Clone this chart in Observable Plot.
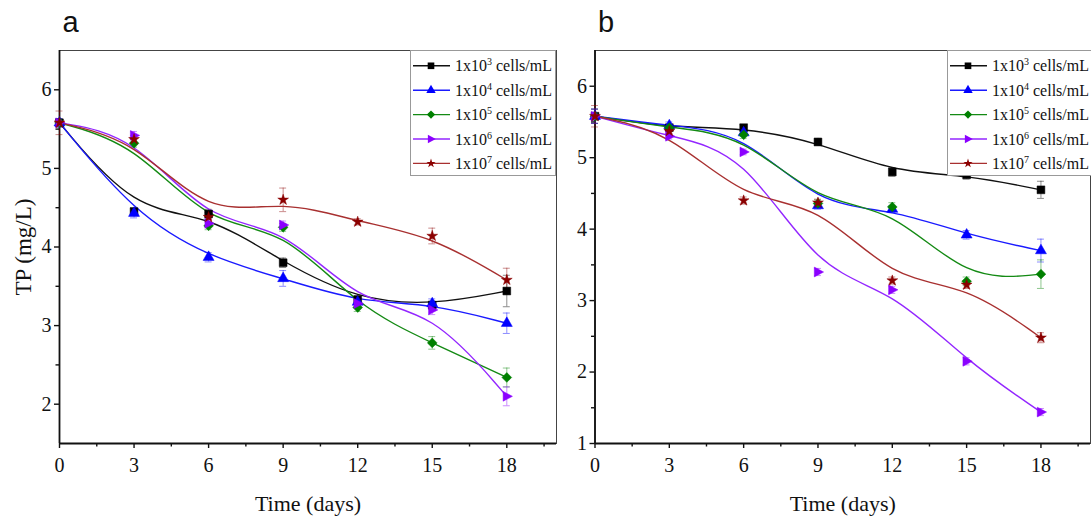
<!DOCTYPE html>
<html>
<head>
<meta charset="utf-8">
<script src="https://cdn.jsdelivr.net/npm/d3@7"></script>
<script src="https://cdn.jsdelivr.net/npm/@observablehq/plot@0.6"></script>
<style>
  body { margin: 0; background: #fff; width: 1091px; height: 518px; overflow: hidden; position: relative; }
  .panel { position: absolute; top: 0; }
  .legend { position: absolute; top: 50px; }
</style>
</head>
<body>
<div id="panelA" class="panel" style="left:0px"></div>
<div id="panelB" class="panel" style="left:540px"></div>
<script>
// Sampling days
const days = [0, 3, 6, 9, 12, 15, 18];

// Inoculum densities (legend: 1x10^n cells/mL)
const exponents = [3, 4, 5, 6, 7];
const seriesKeys = ["1e3", "1e4", "1e5", "1e6", "1e7"];
const markerColors = ["#000000", "#0000ff", "#008000", "#8b00ff", "#8b0000"];
const lineColors = ["#111111", "#1a1aff", "#148a14", "#9326ff", "#a83030"];

// Panel a — total phosphorus (mg/L), means
const tpA_1e3 = [5.58, 4.45, 4.42, 3.80, 3.33, 3.26, 3.44];
const tpA_1e4 = [5.58, 4.43, 3.87, 3.60, 3.30, 3.28, 3.03];
const tpA_1e5 = [5.58, 5.32, 4.27, 4.25, 3.23, 2.78, 2.34];
const tpA_1e6 = [5.58, 5.42, 4.30, 4.28, 3.28, 3.20, 2.10];
const tpA_1e7 = [5.58, 5.37, 4.38, 4.60, 4.32, 4.14, 3.58];
// Panel a — standard deviations
const sdA_1e3 = [0.05, 0.05, 0.06, 0.06, 0.05, 0.05, 0.20];
const sdA_1e4 = [0.05, 0.06, 0.06, 0.10, 0.06, 0.06, 0.13];
const sdA_1e5 = [0.05, 0.05, 0.05, 0.05, 0.05, 0.08, 0.12];
const sdA_1e6 = [0.05, 0.05, 0.05, 0.05, 0.05, 0.06, 0.12];
const sdA_1e7 = [0.15, 0.05, 0.06, 0.15, 0.04, 0.10, 0.15];

// Panel b — total phosphorus (mg/L), means
const tpB_1e3 = [5.58, 5.42, 5.42, 5.22, 4.80, 4.76, 4.55];
const tpB_1e4 = [5.58, 5.45, 5.35, 4.33, 4.28, 3.92, 3.70];
const tpB_1e5 = [5.58, 5.42, 5.32, 4.36, 4.31, 3.27, 3.37];
const tpB_1e6 = [5.58, 5.30, 5.08, 3.40, 3.15, 2.15, 1.44];
const tpB_1e7 = [5.58, 5.37, 4.40, 4.37, 3.28, 3.22, 2.48];
// Panel b — standard deviations
const sdB_1e3 = [0.10, 0.04, 0.04, 0.05, 0.06, 0.06, 0.12];
const sdB_1e4 = [0.10, 0.05, 0.05, 0.05, 0.05, 0.06, 0.16];
const sdB_1e5 = [0.10, 0.04, 0.05, 0.05, 0.06, 0.06, 0.20];
const sdB_1e6 = [0.10, 0.04, 0.04, 0.05, 0.05, 0.05, 0.05];
const sdB_1e7 = [0.15, 0.04, 0.05, 0.05, 0.05, 0.05, 0.07];

// Axis ticks
const xMajor = [0, 3, 6, 9, 12, 15, 18];
const xMinor = [1.5, 4.5, 7.5, 10.5, 13.5, 16.5, 19.5];
const yMajorA = [2, 3, 4, 5, 6];
const yMinorA = [2.5, 3.5, 4.5, 5.5];
const yMajorB = [1, 2, 3, 4, 5, 6];
const yMinorB = [1.5, 2.5, 3.5, 4.5, 5.5];

// Right-pointing triangle marker
const triangleRight = {
  draw(ctx, size) {
    const h = Math.sqrt(size) * 0.6;
    ctx.moveTo(h * 1.15, 0);
    ctx.lineTo(-h * 0.75, -h);
    ctx.lineTo(-h * 0.75, h);
    ctx.closePath();
  }
};
const symbols = [d3.symbolSquare, d3.symbolTriangle, d3.symbolDiamond2, triangleRight, d3.symbolStar];
const symbolR = [4.4, 4.1, 4.4, 4.6, 3.4];

const serif = '"Liberation Serif", "Times New Roman", serif';
const sans = '"Liberation Sans", Arial, sans-serif';
const tickFont = 20;

function buildRows(means, sds) {
  return means.flatMap((vals, s) => vals.map((v, i) => ({
    series: seriesKeys[s], s, day: days[i], tp: v, lo: v - sds[s][i], hi: v + sds[s][i]
  })));
}

function drawPanel({el, width, marginLeft, marginRight, yDomain, yMajor, yMinor, rows, tag, yTitle}) {
  const marks = [
    Plot.frame({stroke: "#444", strokeWidth: 1}),
    // tick marks (labels are drawn as separate text marks below)
    Plot.axisX(xMajor, {tickSize: 5, text: null, strokeWidth: 1.4, label: null}),
    Plot.axisX(xMinor, {tickSize: 3.5, text: null, strokeWidth: 1.4, label: null}),
    Plot.axisY(yMajor, {tickSize: 5, text: null, strokeWidth: 1.4, label: null}),
    Plot.axisY(yMinor, {tickSize: 3.5, text: null, strokeWidth: 1.4, label: null}),
    Plot.text(xMajor, {x: d => d, frameAnchor: "bottom", dy: 22, text: d => String(d),
      fontSize: tickFont, fontFamily: serif, lineAnchor: "middle", textAnchor: "middle", fill: "#111"}),
    Plot.text(yMajor, {y: d => d, frameAnchor: "left", dx: -8, text: d => String(d),
      fontSize: tickFont, fontFamily: serif, lineAnchor: "middle", textAnchor: "end", fill: "#111"}),
    Plot.ruleX([0], {stroke: "#111", strokeWidth: 1.8}),
    Plot.ruleY([yDomain[0]], {stroke: "#111", strokeWidth: 1.8}),
    Plot.text(["Time (days)"], {frameAnchor: "bottom", dy: 60, fontSize: 22, fontFamily: serif,
      textAnchor: "middle", lineAnchor: "middle"}),
    Plot.text([tag], {frameAnchor: "top-left", dx: 3, dy: -19, fontSize: 29, fontFamily: sans,
      textAnchor: "start", lineAnchor: "bottom"})
  ];
  if (yTitle) {
    marks.push(Plot.text([yTitle], {frameAnchor: "left", dx: -36, rotate: -90, fontSize: 23,
      fontFamily: serif, textAnchor: "middle", lineAnchor: "middle"}));
  }
  seriesKeys.forEach((key, s) => {
    const data = rows.filter(d => d.series === key);
    const col = markerColors[s];
    marks.push(
      Plot.ruleX(data, {x: "day", y1: "lo", y2: "hi", stroke: col, strokeOpacity: 0.45, strokeWidth: 1}),
      Plot.ruleY(data, {y: "lo", x1: d => d.day - 0.14, x2: d => d.day + 0.14, stroke: col, strokeOpacity: 0.45, strokeWidth: 1}),
      Plot.ruleY(data, {y: "hi", x1: d => d.day - 0.14, x2: d => d.day + 0.14, stroke: col, strokeOpacity: 0.45, strokeWidth: 1}),
      Plot.line(data, {x: "day", y: "tp", curve: "basis", stroke: lineColors[s], strokeWidth: 1.4})
    );
  });
  seriesKeys.forEach((key, s) => {
    const data = rows.filter(d => d.series === key);
    marks.push(Plot.dot(data, {x: "day", y: "tp", symbol: symbols[s], r: symbolR[s],
      fill: markerColors[s], stroke: markerColors[s], strokeWidth: 0.5}));
  });
  const chart = Plot.plot({
    width, height: 518,
    marginLeft, marginRight, marginTop: 50, marginBottom: 75,
    x: {domain: [0, 20]},
    y: {domain: yDomain},
    style: {fontFamily: serif, color: "#111", background: "transparent", overflow: "visible"},
    marks
  });
  document.getElementById(el).appendChild(chart);
}

// Legend box drawn inside each panel's frame
function drawLegend(left, width) {
  const h = 126;
  const svg = d3.select("body").append("svg")
    .attr("class", "legend")
    .style("left", left + "px")
    .attr("width", width).attr("height", h);
  svg.append("rect").attr("x", 0.5).attr("y", 0.5).attr("width", width - 1).attr("height", h - 1)
    .attr("fill", "#fff").attr("stroke", "#999");
  exponents.forEach((e, s) => {
    const y = 15.8 + s * 24.4;
    const g = svg.append("g");
    g.append("line").attr("x1", 3).attr("x2", 40).attr("y1", y).attr("y2", y)
      .attr("stroke", lineColors[s]).attr("stroke-width", 1.4);
    g.append("path").attr("transform", `translate(21,${y})`)
      .attr("d", d3.symbol(symbols[s], Math.PI * Math.pow(symbolR[s] * 0.85, 2))())
      .attr("fill", markerColors[s]);
    const t = g.append("text").attr("x", 45).attr("y", y + 5.5)
      .attr("font-family", serif).attr("font-size", 16).attr("fill", "#111");
    t.append("tspan").text("1x10");
    t.append("tspan").attr("dy", -6).attr("font-size", 10).text(e);
    t.append("tspan").attr("dy", 6).text(" cells/mL");
  });
}

drawPanel({
  el: "panelA", width: 560, marginLeft: 59, marginRight: 4,
  yDomain: [1.5, 6.5], yMajor: yMajorA, yMinor: yMinorA,
  rows: buildRows([tpA_1e3, tpA_1e4, tpA_1e5, tpA_1e6, tpA_1e7],
                  [sdA_1e3, sdA_1e4, sdA_1e5, sdA_1e6, sdA_1e7]),
  tag: "a", yTitle: "TP (mg/L)"
});
drawPanel({
  el: "panelB", width: 551, marginLeft: 54.5, marginRight: 1,
  yDomain: [1, 6.5], yMajor: yMajorB, yMinor: yMinorB,
  rows: buildRows([tpB_1e3, tpB_1e4, tpB_1e5, tpB_1e6, tpB_1e7],
                  [sdB_1e3, sdB_1e4, sdB_1e5, sdB_1e6, sdB_1e7]),
  tag: "b", yTitle: null
});
drawLegend(410, 146);
drawLegend(947, 150);
</script>
</body>
</html>
